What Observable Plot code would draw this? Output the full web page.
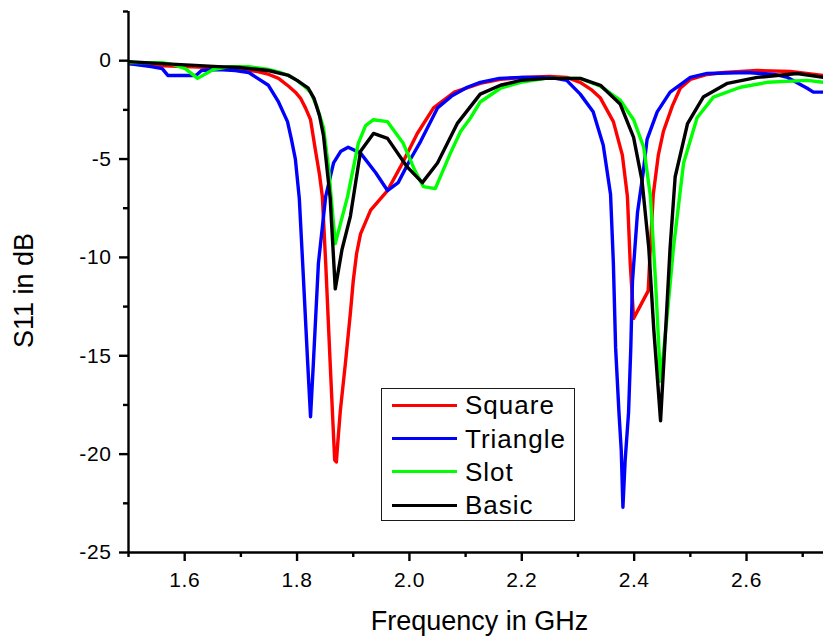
<!DOCTYPE html>
<html>
<head>
<meta charset="utf-8">
<script src="https://cdn.jsdelivr.net/npm/d3@7"></script>
<script src="https://cdn.jsdelivr.net/npm/@observablehq/plot@0.6"></script>
<style>
  body { margin: 0; background: #fff; }
  #wrap { position: relative; width: 823px; height: 638px; overflow: hidden; font-family: "Liberation Sans", Arial, sans-serif; }
  g[aria-label="x-axis tick label"] text, g[aria-label="y-axis tick label"] text { letter-spacing: 0.6px; }
  g[aria-label="axis title"] text { letter-spacing: 1.1px; }
  .lg-box { position: absolute; border: 1.5px solid #1a1a1a; box-sizing: border-box; background: #fff; }
  .lg-line { position: absolute; height: 3px; }
  .lg-text { position: absolute; font-size: 26px; line-height: 26px; letter-spacing: 1px; color: #000; white-space: nowrap; }
</style>
</head>
<body>
<div id="wrap"></div>
<script>
// ---- data (frequency in GHz, S11 in dB) ----
const square = [[1.500,-0.15],[1.550,-0.25],[1.600,-0.3],[1.650,-0.35],[1.700,-0.45],[1.730,-0.55],[1.750,-0.7],[1.767,-0.9],[1.785,-1.3],[1.797,-1.6],[1.806,-1.9],[1.815,-2.4],[1.824,-3.0],[1.833,-4.6],[1.840,-5.8],[1.845,-6.9],[1.851,-10.3],[1.859,-15.4],[1.864,-18.5],[1.867,-20.3],[1.870,-20.4],[1.872,-19.6],[1.877,-17.8],[1.886,-15.4],[1.895,-12.8],[1.900,-11.2],[1.906,-9.8],[1.913,-8.8],[1.931,-7.6],[1.961,-6.6],[1.984,-5.4],[2.014,-3.7],[2.043,-2.4],[2.080,-1.6],[2.126,-1.15],[2.162,-0.95],[2.200,-0.85],[2.250,-0.8],[2.280,-0.85],[2.304,-1.1],[2.325,-1.5],[2.340,-1.9],[2.363,-3.1],[2.379,-4.8],[2.388,-6.9],[2.393,-10.3],[2.399,-13.1],[2.425,-11.7],[2.429,-9.4],[2.434,-6.8],[2.443,-4.8],[2.452,-3.6],[2.468,-2.3],[2.482,-1.4],[2.500,-0.95],[2.530,-0.7],[2.560,-0.6],[2.619,-0.5],[2.678,-0.55],[2.737,-0.75]];
const triangle = [[1.500,-0.15],[1.540,-0.3],[1.560,-0.4],[1.570,-0.75],[1.600,-0.75],[1.620,-0.75],[1.630,-0.5],[1.660,-0.45],[1.690,-0.5],[1.714,-0.6],[1.730,-0.9],[1.749,-1.25],[1.767,-2.1],[1.783,-3.1],[1.790,-4.0],[1.797,-5.0],[1.804,-7.0],[1.810,-10.3],[1.819,-15.4],[1.824,-18.1],[1.829,-15.4],[1.838,-10.3],[1.851,-6.9],[1.865,-5.2],[1.878,-4.6],[1.891,-4.4],[1.913,-4.7],[1.940,-5.7],[1.961,-6.6],[1.980,-6.2],[2.000,-5.1],[2.020,-4.1],[2.050,-2.4],[2.075,-1.8],[2.103,-1.35],[2.126,-1.1],[2.160,-0.9],[2.200,-0.85],[2.250,-0.85],[2.280,-1.0],[2.304,-1.7],[2.327,-2.6],[2.345,-4.3],[2.358,-6.8],[2.363,-10.3],[2.367,-14.6],[2.373,-17.9],[2.377,-19.8],[2.380,-22.7],[2.384,-20.3],[2.390,-17.9],[2.394,-14.6],[2.397,-11.2],[2.406,-7.7],[2.416,-5.7],[2.423,-4.0],[2.441,-2.6],[2.464,-1.6],[2.500,-0.85],[2.530,-0.65],[2.601,-0.6],[2.650,-0.7],[2.673,-0.85],[2.708,-1.4],[2.719,-1.6],[2.737,-1.6]];
const slot = [[1.500,-0.1],[1.560,-0.1],[1.580,-0.2],[1.601,-0.4],[1.623,-0.9],[1.651,-0.45],[1.680,-0.3],[1.714,-0.3],[1.750,-0.45],[1.770,-0.6],[1.785,-0.75],[1.800,-1.0],[1.815,-1.35],[1.824,-1.6],[1.835,-2.3],[1.847,-3.4],[1.856,-5.4],[1.868,-9.3],[1.890,-6.9],[1.909,-4.2],[1.922,-3.3],[1.936,-3.0],[1.961,-3.1],[1.989,-4.2],[2.010,-5.6],[2.025,-6.4],[2.046,-6.5],[2.073,-4.7],[2.091,-3.6],[2.109,-2.9],[2.126,-2.1],[2.162,-1.4],[2.198,-1.1],[2.242,-0.9],[2.304,-0.9],[2.340,-1.3],[2.375,-2.0],[2.399,-3.0],[2.417,-4.4],[2.429,-6.9],[2.438,-11.2],[2.447,-16.3],[2.459,-12.9],[2.470,-9.5],[2.488,-5.2],[2.512,-2.9],[2.541,-1.85],[2.589,-1.35],[2.637,-1.1],[2.708,-1.0],[2.737,-1.1]];
const basic = [[1.500,-0.05],[1.560,-0.15],[1.660,-0.3],[1.700,-0.35],[1.749,-0.5],[1.785,-0.75],[1.800,-1.0],[1.820,-1.4],[1.830,-1.9],[1.840,-2.8],[1.847,-3.8],[1.859,-7.0],[1.868,-11.6],[1.880,-9.6],[1.895,-7.9],[1.913,-4.6],[1.936,-3.7],[1.961,-3.95],[1.996,-5.4],[2.023,-6.2],[2.050,-5.2],[2.085,-3.2],[2.126,-1.7],[2.162,-1.25],[2.198,-1.0],[2.242,-0.9],[2.304,-0.9],[2.340,-1.25],[2.375,-2.2],[2.399,-3.9],[2.414,-6.1],[2.426,-9.5],[2.435,-13.7],[2.447,-18.3],[2.456,-13.7],[2.464,-9.5],[2.473,-5.9],[2.495,-3.2],[2.523,-1.85],[2.566,-1.15],[2.619,-0.85],[2.690,-0.65],[2.737,-0.85]];

const seriesNames = ["Square", "Triangle", "Slot", "Basic"];
const seriesColors = ["#ff0000", "#0000ff", "#00ff00", "#000000"];
const seriesData = [square, triangle, slot, basic];

const xTicks = [1.6, 1.8, 2.0, 2.2, 2.4, 2.6];
const xMinorTicks = [1.5, 1.7, 1.9, 2.1, 2.3, 2.5, 2.7];
const yTicks = [-25, -20, -15, -10, -5, 0];
const yMinorTicks = [-22.5, -17.5, -12.5, -7.5, -2.5, 2.5];
const xDomain = [1.5, 2.737];
const yDomain = [-25, 2.5];
const xTitle = "Frequency in GHz";
const yTitle = "S11 in dB";

// ---- build table ----
const rows = [];
seriesData.forEach((arr, i) => arr.forEach(([f, v]) => rows.push({series: seriesNames[i], f, v})));

const axisStroke = 2.4;
const chart = Plot.plot({
  width: 823,
  height: 638,
  marginLeft: 128,
  marginRight: 0,
  marginTop: 11,
  marginBottom: 86,
  style: {fontFamily: '"Liberation Sans", Arial, sans-serif', fontSize: "21px", color: "#000", background: "#fff", overflow: "visible"},
  x: {domain: xDomain},
  y: {domain: yDomain},
  color: {domain: seriesNames, range: seriesColors},
  marks: [
    Plot.line(rows, {x: "f", y: "v", z: "series", stroke: "series", strokeWidth: 3.4, clip: true}),
    Plot.ruleY([yDomain[0]], {stroke: "#000", strokeWidth: axisStroke}),
    Plot.ruleX([xDomain[0]], {stroke: "#000", strokeWidth: axisStroke}),
    Plot.axisX(xMinorTicks, {tickSize: 5, tickFormat: () => "", label: null, strokeWidth: axisStroke, stroke: "#000"}),
    Plot.axisY(yMinorTicks, {tickSize: 5, tickFormat: () => "", label: null, strokeWidth: axisStroke, stroke: "#000"}),
    Plot.axisX(xTicks, {tickSize: 9, tickPadding: 11, tickFormat: d3.format(".1f"), label: null, strokeWidth: axisStroke, stroke: "#000", fill: "#000"}),
    Plot.axisY(yTicks, {tickSize: 9, tickPadding: 8, tickFormat: d => String(d), label: null, strokeWidth: axisStroke, stroke: "#000", fill: "#000"}),
    Plot.text([xTitle], {text: d => d, frameAnchor: "bottom", dx: 3.5, dy: 69, lineAnchor: "middle", textAnchor: "middle", fontSize: 27, fill: "#000", ariaLabel: "axis title"}),
    Plot.text([yTitle], {text: d => d, frameAnchor: "left", rotate: -90, dx: -104, dy: 8.5, lineAnchor: "middle", textAnchor: "middle", fontSize: 27, fill: "#000", ariaLabel: "axis title"})
  ]
});

const wrap = document.getElementById("wrap");
wrap.appendChild(chart);

// ---- legend (HTML overlay inside the plot area) ----
const box = document.createElement("div");
box.className = "lg-box";
Object.assign(box.style, {left: "381px", top: "388px", width: "194px", height: "133px"});
wrap.appendChild(box);
const rowCenters = [405, 438.3, 471.7, 505];
seriesNames.forEach((name, i) => {
  const ln = document.createElement("div");
  ln.className = "lg-line";
  Object.assign(ln.style, {left: "392px", width: "65px", top: (rowCenters[i] - 1.5) + "px", background: seriesColors[i]});
  wrap.appendChild(ln);
  const tx = document.createElement("div");
  tx.className = "lg-text";
  tx.textContent = name;
  Object.assign(tx.style, {left: "465px", top: (rowCenters[i] - 12.8) + "px"});
  wrap.appendChild(tx);
});
</script>
</body>
</html>
